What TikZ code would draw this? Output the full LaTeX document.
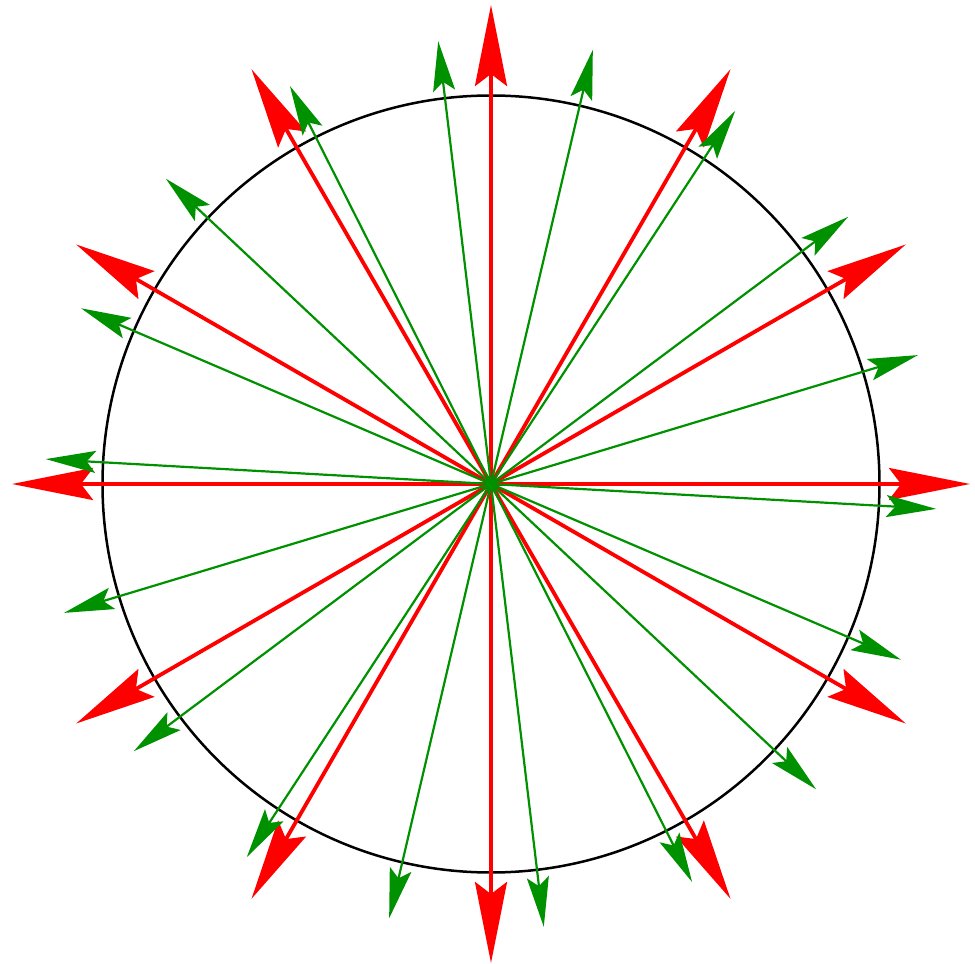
\documentclass[tikz,border=0pt]{standalone}
\usetikzlibrary{arrows.meta}
\definecolor{myred}{RGB}{255,0,0}
\definecolor{mygreen}{RGB}{0,145,0}
\begin{document}
\begin{tikzpicture}[x=1pt,y=1pt,
  redarrow/.style={draw=myred,line width=3.8pt,-{Stealth[length=81pt,width=32pt,inset=12pt]},myred},
  greenarrow/.style={draw=mygreen,line width=2.2pt,-{Stealth[length=50pt,width=22pt,inset=9pt]},mygreen},
  ring/.style={draw=black,line width=2.5pt}]
\useasboundingbox (-491,-480) rectangle (484,484);
\coordinate (c) at (0,0);
\draw[ring] (c) circle (388.5);
\foreach \a in {0,30,...,330}{
  \coordinate (r\a) at (\a:479);
  \draw[redarrow] (c) -- (r\a);
}
\foreach \k in {0,...,17}{
  \pgfmathsetmacro{\ang}{-3.2+20*\k}
  \coordinate (g\k) at (\ang:446);
  \draw[greenarrow] (c) -- (g\k);
}
\end{tikzpicture}
\end{document}
